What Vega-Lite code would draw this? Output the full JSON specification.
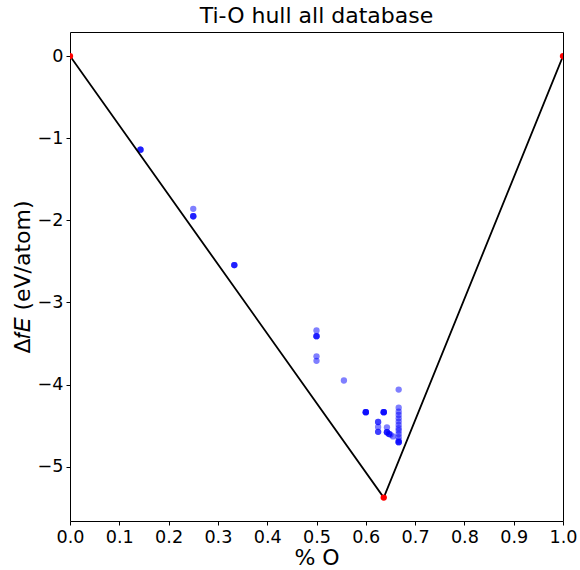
{
  "$schema": "https://vega.github.io/schema/vega-lite/v6.json",
  "autosize": {"type": "none"},
  "padding": {"left": 70, "top": 32, "right": 17, "bottom": 49},
  "width": 493,
  "height": 489,
  "background": "white",
  "title": {"text": "Ti-O hull all database", "font": "DejaVu Sans", "fontSize": 22, "fontWeight": "normal", "color": "black", "offset": 4},
  "config": {
    "view": {"stroke": "black", "strokeWidth": 1},
    "axis": {
      "labelFont": "DejaVu Sans", "labelFontSize": 17.6, "labelColor": "black",
      "titleFont": "DejaVu Sans", "titleFontSize": 22, "titleFontWeight": "normal", "titleColor": "black",
      "tickColor": "black", "tickSize": 4, "tickWidth": 1, "labelPadding": 3,
      "labelFlush": false, "labelOverlap": false,
      "domain": false, "grid": false
    }
  },
  "datasets": {
    "hull": [
      {"x": 0.0, "e": 0.0},
      {"x": 0.6364, "e": -5.375},
      {"x": 1.0, "e": 0.0}
    ],
    "entries": [
      {"x": 0.1429, "e": -1.14}, {"x": 0.1429, "e": -1.14}, {"x": 0.1429, "e": -1.14},
      {"x": 0.25, "e": -1.86},
      {"x": 0.25, "e": -1.95}, {"x": 0.25, "e": -1.95}, {"x": 0.25, "e": -1.95},
      {"x": 0.3333, "e": -2.545}, {"x": 0.3333, "e": -2.545}, {"x": 0.3333, "e": -2.545},
      {"x": 0.5, "e": -3.34},
      {"x": 0.5, "e": -3.41}, {"x": 0.5, "e": -3.41}, {"x": 0.5, "e": -3.41},
      {"x": 0.5, "e": -3.655},
      {"x": 0.5, "e": -3.71},
      {"x": 0.5556, "e": -3.95},
      {"x": 0.6, "e": -4.335}, {"x": 0.6, "e": -4.335}, {"x": 0.6, "e": -4.335}, {"x": 0.6, "e": -4.335},
      {"x": 0.6364, "e": -4.335}, {"x": 0.6364, "e": -4.335}, {"x": 0.6364, "e": -4.335}, {"x": 0.6364, "e": -4.335},
      {"x": 0.625, "e": -4.455}, {"x": 0.625, "e": -4.455},
      {"x": 0.625, "e": -4.515},
      {"x": 0.625, "e": -4.575}, {"x": 0.625, "e": -4.575},
      {"x": 0.6429, "e": -4.52},
      {"x": 0.6429, "e": -4.58}, {"x": 0.6429, "e": -4.58}, {"x": 0.6429, "e": -4.58},
      {"x": 0.6471, "e": -4.6}, {"x": 0.6471, "e": -4.6},
      {"x": 0.65, "e": -4.61},
      {"x": 0.6552, "e": -4.63},
      {"x": 0.6667, "e": -4.06},
      {"x": 0.6667, "e": -4.28},
      {"x": 0.6667, "e": -4.33},
      {"x": 0.6667, "e": -4.37},
      {"x": 0.6667, "e": -4.41},
      {"x": 0.6667, "e": -4.45},
      {"x": 0.6667, "e": -4.49},
      {"x": 0.6667, "e": -4.53},
      {"x": 0.6667, "e": -4.56},
      {"x": 0.6667, "e": -4.6},
      {"x": 0.6667, "e": -4.64},
      {"x": 0.6667, "e": -4.68},
      {"x": 0.6667, "e": -4.7}, {"x": 0.6667, "e": -4.7}, {"x": 0.6667, "e": -4.7}
    ]
  },
  "encoding": {
    "x": {"field": "x", "type": "quantitative",
      "scale": {"domain": [0, 1], "nice": false, "zero": false},
      "axis": {"title": "% O", "values": [0, 0.1, 0.2, 0.3, 0.4, 0.5, 0.6, 0.7, 0.8, 0.9, 1.0], "format": ".1f", "titlePadding": 2}},
    "y": {"field": "e", "type": "quantitative",
      "scale": {"domain": [-5.66, 0.293], "nice": false, "zero": false},
      "axis": {"title": "Δ𝑓𝐸 (eV/atom)", "values": [-5, -4, -3, -2, -1, 0], "format": "d", "titlePadding": 3}}
  },
  "layer": [
    {
      "data": {"name": "entries"},
      "mark": {"type": "circle", "color": "blue", "opacity": 0.5, "size": 40, "clip": true}
    },
    {
      "data": {"name": "hull"},
      "mark": {"type": "line", "color": "black", "strokeWidth": 1.8, "clip": true}
    },
    {
      "data": {"name": "hull"},
      "mark": {"type": "circle", "color": "red", "opacity": 1, "size": 40, "clip": true}
    }
  ]
}
